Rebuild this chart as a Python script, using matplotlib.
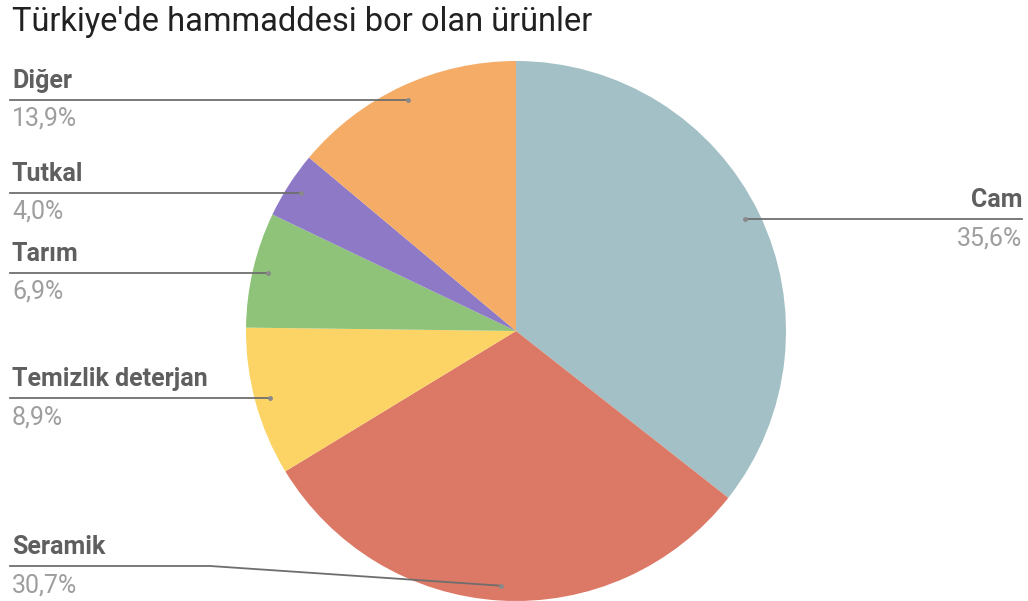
import numpy as np
import matplotlib.pyplot as plt

plt.rcParams['font.family'] = ['Roboto', 'DejaVu Sans']

title = "Türkiye'de hammaddesi bor olan ürünler"
labels = ["Cam", "Seramik", "Temizlik deterjan", "Tarım", "Tutkal", "Diğer"]
shares = [35.6, 30.7, 8.9, 6.9, 4.0, 13.9]
colors = ["#a2c0c5", "#dc7966", "#fbd465", "#8ec379", "#8d79c6", "#f4ac67"]

W, H = 1028, 601
fig = plt.figure(figsize=(W / 100, H / 100), dpi=100)
ax = fig.add_axes([0, 0, 1, 1])

cx, cy, R = 516, H - 331, 270
wedges, _ = ax.pie(shares, colors=colors, startangle=90, counterclock=False,
                   center=(cx, cy), radius=R, frame=True,
                   wedgeprops=dict(linewidth=0))
ax.set_xlim(0, W)
ax.set_ylim(0, H)
ax.axis("off")

fig.text(12 / W, 1 - 22 / H, title, fontsize=23.5, color="#212121",
         va="center", ha="left")

line_col = "#6e6e6e"
name_col = "#5f5f5f"
pct_col = "#9e9e9e"
for w, lab, val in zip(wedges, labels, shares):
    ang = np.deg2rad((w.theta1 + w.theta2) / 2)
    px = cx + 0.945 * R * np.cos(ang)
    py = cy + 0.945 * R * np.sin(ang)
    pct = f"{val:.1f}%".replace(".", ",")
    ly = py
    if lab == "Seramik":
        ly = H - 566
    if px > cx:
        ha, tx = "right", 1022
        ax.plot([px, 1022], [ly, ly], color=line_col, lw=1.3, zorder=3)
    else:
        ha, tx = "left", 12
        if ly != py:
            ax.plot([10, 210, px], [ly, ly, py], color=line_col, lw=1.3, zorder=3)
        else:
            ax.plot([10, px], [ly, ly], color=line_col, lw=1.3, zorder=3)
    ax.plot(px, py, "o", ms=2.5, color="#8a8a8a", zorder=4)
    ax.text(tx, ly + 19, lab, fontsize=18, fontweight="bold", color=name_col,
            ha=ha, va="center")
    ax.text(tx, ly - 19, pct, fontsize=18, color=pct_col, ha=ha, va="center")

fig.savefig("out.png", dpi=100, facecolor="white")
